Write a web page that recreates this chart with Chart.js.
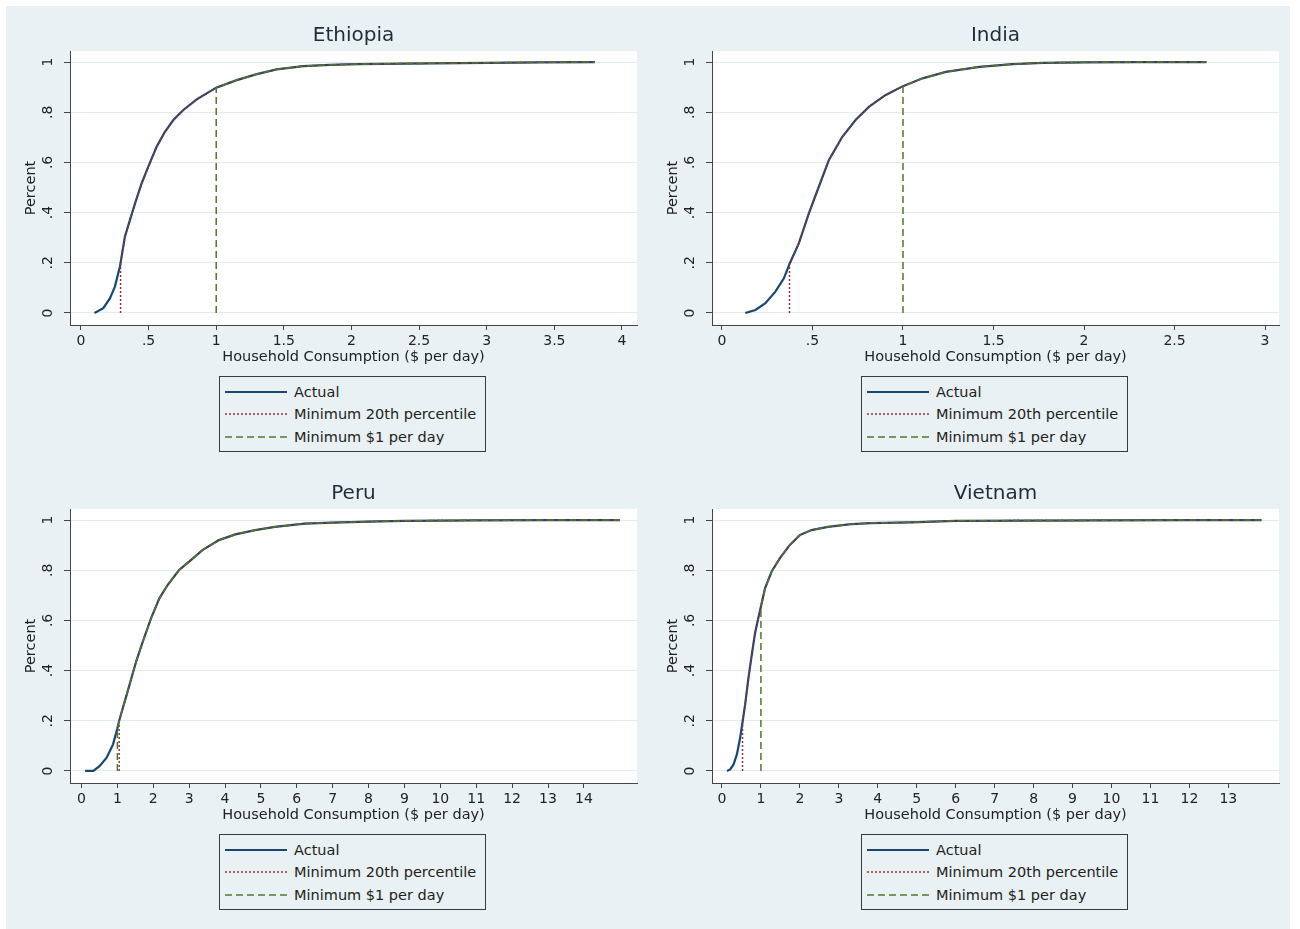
<!DOCTYPE html>
<html>
<head>
<meta charset="utf-8">
<script src="https://cdn.jsdelivr.net/npm/chart.js@4.4.1/dist/chart.umd.min.js"></script>
<style>
html,body{margin:0;padding:0;background:#ffffff;width:1300px;height:929px;overflow:hidden;}
#bg{position:absolute;left:6px;top:6px;width:1284px;height:923px;background:#E9F1F4;}
.panel{position:absolute;width:644px;height:360px;}
.panel canvas{position:absolute;left:0;top:0;}
.legend{position:absolute;width:267px;height:76px;border:1px solid #3a3a3a;box-sizing:border-box;font-family:"DejaVu Sans",sans-serif;font-size:14.5px;color:#222;}
.legend .row{position:absolute;left:0;height:20px;width:265px;}
.legend .row svg{position:absolute;left:5px;top:8px;}
.legend .row span{position:absolute;left:74px;top:1px;white-space:nowrap;line-height:18px;}
</style>
</head>
<body>
<div id="bg"></div>
<script>
// ---------------- DATA ----------------
const countryNames = ['Ethiopia', 'India', 'Peru', 'Vietnam'];
const seriesLabels = ['Actual', 'Minimum 20th percentile', 'Minimum $1 per day'];
const xAxisTitle = 'Household Consumption ($ per day)';
const yAxisTitle = 'Percent';

const yTickValues = [0, 0.2, 0.4, 0.6, 0.8, 1];
const yTickLabels = ['0', '.2', '.4', '.6', '.8', '1'];

// Ethiopia
const ethiopiaX = [0.10, 0.165, 0.214, 0.251, 0.288, 0.293, 0.325, 0.362, 0.40, 0.449, 0.498, 0.56, 0.621, 0.683, 0.757, 0.856, 1.0, 1.152, 1.30, 1.447, 1.644, 1.842, 2.05, 2.4, 2.8, 3.0, 3.4, 3.8];
const ethiopiaY = [0, 0.019, 0.058, 0.105, 0.184, 0.20, 0.304, 0.37, 0.437, 0.517, 0.583, 0.663, 0.722, 0.769, 0.809, 0.851, 0.898, 0.928, 0.952, 0.971, 0.984, 0.989, 0.992, 0.994, 0.996, 0.997, 0.999, 1.0];
const ethiopiaMin20X = [0.293, 0.293];
const ethiopiaMin20Y = [0, 0.20];
const ethiopiaMin1X = [1.0, 1.0];
const ethiopiaMin1Y = [0, 0.898];
const ethiopiaXTicks = [0, 0.5, 1, 1.5, 2, 2.5, 3, 3.5, 4];
const ethiopiaXLabels = ['0', '.5', '1', '1.5', '2', '2.5', '3', '3.5', '4'];

// India
const indiaX = [0.129, 0.185, 0.24, 0.295, 0.342, 0.373, 0.425, 0.48, 0.535, 0.591, 0.665, 0.738, 0.813, 0.905, 1.0, 1.108, 1.237, 1.422, 1.607, 1.773, 2.0, 2.3, 2.676];
const indiaY = [0, 0.012, 0.039, 0.085, 0.138, 0.195, 0.278, 0.397, 0.503, 0.61, 0.702, 0.769, 0.822, 0.869, 0.904, 0.935, 0.961, 0.981, 0.992, 0.997, 0.999, 1.0, 1.0];
const indiaMin20X = [0.373, 0.373];
const indiaMin20Y = [0, 0.195];
const indiaMin1X = [1.0, 1.0];
const indiaMin1Y = [0, 0.904];
const indiaXTicks = [0, 0.5, 1, 1.5, 2, 2.5, 3];
const indiaXLabels = ['0', '.5', '1', '1.5', '2', '2.5', '3'];

// Peru
const peruX = [0.1, 0.33, 0.51, 0.70, 0.88, 1.0, 1.05, 1.155, 1.34, 1.525, 1.71, 1.94, 2.17, 2.4, 2.72, 3.0, 3.37, 3.83, 4.29, 4.84, 5.39, 6.22, 7.0, 8.0, 9.0, 11.0, 13.0, 15.0];
const peruY = [0, 0, 0.02, 0.053, 0.106, 0.17, 0.20, 0.252, 0.344, 0.437, 0.516, 0.609, 0.688, 0.741, 0.801, 0.834, 0.88, 0.92, 0.943, 0.96, 0.973, 0.986, 0.99, 0.994, 0.997, 0.999, 1.0, 1.0];
const peruMin20X = [1.05, 1.05];
const peruMin20Y = [0, 0.20];
const peruMin1X = [1.0, 1.0];
const peruMin1Y = [0, 0.17];
const peruXTicks = [0, 1, 2, 3, 4, 5, 6, 7, 8, 9, 10, 11, 12, 13, 14];
const peruXLabels = ['0', '1', '2', '3', '4', '5', '6', '7', '8', '9', '10', '11', '12', '13', '14'];

// Vietnam
const vietnamX = [0.128, 0.212, 0.298, 0.383, 0.467, 0.528, 0.595, 0.68, 0.765, 0.85, 0.936, 1.0, 1.105, 1.276, 1.488, 1.743, 1.997, 2.296, 2.72, 3.316, 3.827, 4.85, 6.0, 8.0, 10.0, 12.0, 13.85];
const vietnamY = [0, 0.006, 0.026, 0.066, 0.132, 0.195, 0.265, 0.371, 0.463, 0.55, 0.612, 0.655, 0.728, 0.795, 0.848, 0.901, 0.94, 0.96, 0.973, 0.984, 0.988, 0.991, 0.997, 0.998, 0.999, 1.0, 1.0];
const vietnamMin20X = [0.528, 0.528];
const vietnamMin20Y = [0, 0.195];
const vietnamMin1X = [1.0, 1.0];
const vietnamMin1Y = [0, 0.655];
const vietnamXTicks = [0, 1, 2, 3, 4, 5, 6, 7, 8, 9, 10, 11, 12, 13];
const vietnamXLabels = ['0', '1', '2', '3', '4', '5', '6', '7', '8', '9', '10', '11', '12', '13'];

// ---------------- STYLE / LAYOUT ----------------
const FONT = '"DejaVu Sans", sans-serif';
Chart.defaults.font.family = FONT;
const seriesColors = ['#1A476F', '#90353B', '#55752F'];
const seriesWidths = [2.2, 1.5, 1.5];
const seriesDash = [[], [2, 2], [7, 4]];

const panels = [
  {name: countryNames[0], left: 6, top: 6, xs: ethiopiaX, ys: ethiopiaY, m20x: ethiopiaMin20X, m20y: ethiopiaMin20Y, m1x: ethiopiaMin1X, m1y: ethiopiaMin1Y, ticks: ethiopiaXTicks, labels: ethiopiaXLabels, xmin: -0.081, xmax: 4.111},
  {name: countryNames[1], left: 648, top: 6, xs: indiaX, ys: indiaY, m20x: indiaMin20X, m20y: indiaMin20Y, m1x: indiaMin1X, m1y: indiaMin1Y, ticks: indiaXTicks, labels: indiaXLabels, xmin: -0.055, xmax: 3.077},
  {name: countryNames[2], left: 6, top: 464, xs: peruX, ys: peruY, m20x: peruMin20X, m20y: peruMin20Y, m1x: peruMin1X, m1y: peruMin1Y, ticks: peruXTicks, labels: peruXLabels, xmin: -0.32, xmax: 15.48},
  {name: countryNames[3], left: 648, top: 464, xs: vietnamX, ys: vietnamY, m20x: vietnamMin20X, m20y: vietnamMin20Y, m1x: vietnamMin1X, m1y: vietnamMin1Y, ticks: vietnamXTicks, labels: vietnamXLabels, xmin: -0.256, xmax: 14.3}
];

function toPoints(xs, ys) { return xs.map((x, i) => ({x: x, y: ys[i]})); }
// alternative series: vertical segment at the minimum, then the actual curve above it
function altSeries(vx, vy, xs, ys) {
  const pts = toPoints(vx, vy);
  const x0 = vx[vx.length - 1];
  xs.forEach((x, i) => { if (x > x0) pts.push({x: x, y: ys[i]}); });
  return pts;
}

const whiteArea = {
  id: 'whiteArea',
  beforeDraw(chart) {
    const {ctx, chartArea: a} = chart;
    ctx.save();
    ctx.fillStyle = '#ffffff';
    ctx.fillRect(a.left, a.top, a.right - a.left, a.bottom - a.top);
    ctx.restore();
  }
};

panels.forEach((p, idx) => {
  const div = document.createElement('div');
  div.className = 'panel';
  div.style.left = p.left + 'px';
  div.style.top = p.top + 'px';
  const canvas = document.createElement('canvas');
  canvas.width = 644; canvas.height = 360;
  canvas.style.width = '644px'; canvas.style.height = '360px';
  div.appendChild(canvas);
  document.body.appendChild(div);

  const datasets = [
    toPoints(p.xs, p.ys),
    altSeries(p.m20x, p.m20y, p.xs, p.ys),
    altSeries(p.m1x, p.m1y, p.xs, p.ys)
  ].map((d, i) => ({
    label: seriesLabels[i],
    data: d,
    borderColor: seriesColors[i],
    borderWidth: seriesWidths[i],
    borderDash: seriesDash[i],
    pointRadius: 0,
    fill: false,
    tension: 0,
    order: 3 - i
  }));

  new Chart(canvas, {
    type: 'line',
    data: {datasets: datasets},
    options: {
      responsive: false,
      animation: false,
      devicePixelRatio: 1,
      layout: {padding: {top: 0, left: 0, right: 13, bottom: 0}},
      plugins: {
        legend: {display: false},
        tooltip: {enabled: false},
        title: {
          display: true, text: p.name, fullSize: false,
          font: {size: 20, weight: 'normal', family: FONT},
          color: '#1f2c3a',
          padding: {top: 18, bottom: 3}
        }
      },
      scales: {
        x: {
          type: 'linear', min: p.xmin, max: p.xmax,
          afterBuildTicks: s => { s.ticks = p.ticks.map(v => ({value: v})); },
          afterFit: s => { s.height = 41; },
          ticks: {
            autoSkip: false, maxRotation: 0, minRotation: 0, padding: 3,
            font: {size: 14}, color: '#222',
            callback: (v, i) => p.labels[i]
          },
          grid: {drawOnChartArea: false, drawTicks: true, tickLength: 5, tickColor: '#444'},
          border: {display: true, color: '#444', width: 1},
          title: {display: true, text: xAxisTitle, font: {size: 14.5}, color: '#222', padding: {top: 0, bottom: 0}}
        },
        y: {
          type: 'linear', min: -0.048, max: 1.044,
          afterBuildTicks: s => { s.ticks = yTickValues.map(v => ({value: v})); },
          afterFit: s => { s.width = 64; },
          ticks: {
            minRotation: 90, maxRotation: 90, crossAlign: 'center', padding: 9,
            font: {size: 14}, color: '#222',
            callback: (v, i) => yTickLabels[i]
          },
          grid: {color: '#E3EBEE', lineWidth: 1, drawTicks: true, tickLength: 6, tickColor: '#444'},
          border: {display: true, color: '#444', width: 1},
          title: {display: true, text: yAxisTitle, font: {size: 14.5}, color: '#222', padding: {top: 17, bottom: 0}}
        }
      }
    },
    plugins: [whiteArea]
  });

  // legend box (HTML), built from the dataset definitions
  const lg = document.createElement('div');
  lg.className = 'legend';
  lg.style.left = (p.left + 213) + 'px';
  lg.style.top = (p.top + 370) + 'px';
  const rowTops = [5, 27, 50];
  datasets.forEach((ds, i) => {
    const row = document.createElement('div');
    row.className = 'row';
    row.style.top = rowTops[i] + 'px';
    const dash = ds.borderDash.length ? ' stroke-dasharray="' + ds.borderDash.join(',') + '"' : '';
    row.innerHTML = '<svg width="62" height="4"><line x1="0" y1="2" x2="62" y2="2" stroke="' + ds.borderColor +
      '" stroke-width="' + ds.borderWidth + '"' + dash + '/></svg><span>' + ds.label + '</span>';
    lg.appendChild(row);
  });
  document.body.appendChild(lg);
});
</script>
</body>
</html>
